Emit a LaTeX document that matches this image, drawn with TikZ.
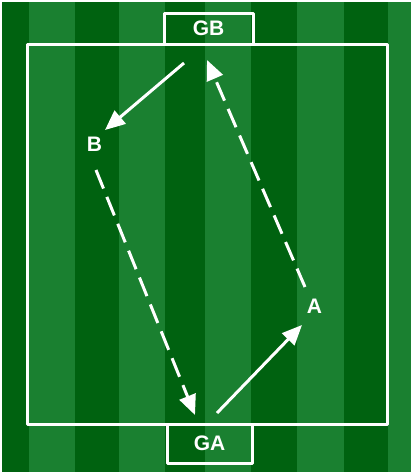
\documentclass[tikz,border=0pt]{standalone}
\usepackage{fontspec}
\setmainfont{Liberation Sans}
\usetikzlibrary{arrows.meta}
\definecolor{pitchdark}{RGB}{0,98,16}
\definecolor{pitchlight}{RGB}{26,128,48}
\tikzset{
  fieldline/.style={draw=white, line width=3pt, line join=round},
  lbl/.style={text=white, font=\fontsize{21}{21}\selectfont\bfseries, inner sep=0pt},
  goalbox/.style={fieldline, inner sep=0pt, text=white, font=\fontsize{21}{21}\selectfont\bfseries},
  pass/.style={white, line width=3pt, -{Triangle[length=20pt,width=17pt]}},
  run/.style={pass, dash pattern=on 20pt off 9pt}
}
\begin{document}
\begin{tikzpicture}[x=1pt,y=-1pt]
\useasboundingbox (0,0) rectangle (411,472);
\fill[white] (0,0) rectangle (411,472);
% stripes
\fill[pitchdark] (2,2) rectangle (411,472);
\foreach \a/\b in {29/75,119/165,205/251,297/344,388/411}
  \fill[pitchlight] (\a,2) rectangle (\b,472);
% goal boxes
\node[goalbox, minimum width=89pt, minimum height=31pt] (GB) at (208.5,28.5) {GB};
\node[goalbox, minimum width=85pt, minimum height=39pt] (GA) at (209.5,443.5) {GA};
% field
\draw[fieldline] (27.5,44) rectangle (387.5,424);
% player labels
\node[lbl] (B) at (94.5,144) {B};
\node[lbl] (A) at (314.5,306) {A};
% arrow endpoints
\coordinate (gbout) at (184,63);
\coordinate (bin) at (105,130);
\coordinate (bout) at (96,170);
\coordinate (gain) at (195,415);
\coordinate (gaout) at (217,413);
\coordinate (ain) at (302,325);
\coordinate (aout) at (305,287);
\coordinate (gbin) at (207,60);
\draw[pass] (gbout) -- (bin);
\draw[run] (bout) -- (gain);
\draw[pass] (gaout) -- (ain);
\draw[run] (aout) -- (gbin);
\end{tikzpicture}
\end{document}
